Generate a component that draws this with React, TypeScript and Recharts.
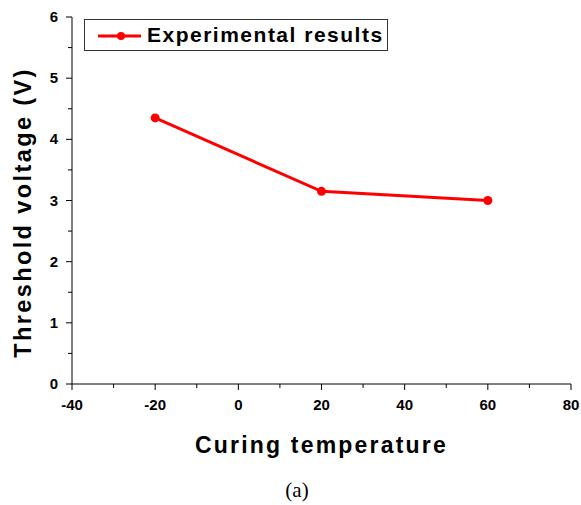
import React from 'react';
import { LineChart, Line, XAxis, YAxis } from 'recharts';

const temperatures = [-20, 20, 60];
const thresholdVoltage = [4.35, 3.15, 3.0];
const xTicks = [-40, -30, -20, -10, 0, 10, 20, 30, 40, 50, 60, 70, 80];
const yTicks = [0, 0.5, 1, 1.5, 2, 2.5, 3, 3.5, 4, 4.5, 5, 5.5, 6];
const seriesName = 'Experimental results';

const data = temperatures.map((t, i) => ({ temp: t, vth: thresholdVoltage[i] }));

const FONT = '"Liberation Sans", Arial, sans-serif';
const RED = '#ff0000';

const XTick = (props: any) => {
  const { x, y, payload } = props;
  const major = payload.value % 20 === 0;
  return (
    <g>
      <line x1={x} y1={y} x2={x} y2={y + (major ? 6 : 4)} stroke="#000" strokeWidth={1} />
      {major && (
        <text x={x} y={y + 26} textAnchor="middle" fontFamily={FONT} fontWeight="bold" fontSize={15} fill="#000">
          {payload.value}
        </text>
      )}
    </g>
  );
};

const YTick = (props: any) => {
  const { x, y, payload } = props;
  const major = Number.isInteger(payload.value);
  return (
    <g>
      <line x1={x} y1={y} x2={x - (major ? 6 : 4)} y2={y} stroke="#000" strokeWidth={1} />
      {major && (
        <text x={x - 14} y={y + 5} textAnchor="end" fontFamily={FONT} fontWeight="bold" fontSize={15} fill="#000">
          {payload.value}
        </text>
      )}
    </g>
  );
};

export default function App() {
  return (
    <div style={{ position: 'absolute', left: 0, top: 0, width: 581, height: 505, background: '#fff' }}>
      <LineChart width={581} height={505} data={data} margin={{ top: 17, right: 10, left: 0, bottom: 0 }}>
        <XAxis
          dataKey="temp"
          type="number"
          domain={[-40, 80]}
          ticks={xTicks}
          interval={0}
          height={121}
          tickSize={0}
          tickMargin={0}
          tick={<XTick />}
          axisLine={{ stroke: '#000', strokeWidth: 1 }}
          label={{
            content: (p: any) => {
              const vb = p.viewBox;
              return (
                <text
                  x={vb.x + vb.width / 2}
                  y={vb.y + 69}
                  textAnchor="middle"
                  fontFamily={FONT}
                  fontWeight="bold"
                  fontSize={23}
                  letterSpacing={2.2}
                  fill="#000"
                >
                  Curing temperature
                </text>
              );
            },
          }}
        />
        <YAxis
          type="number"
          domain={[0, 6]}
          ticks={yTicks}
          interval={0}
          width={72}
          tickSize={0}
          tickMargin={0}
          tick={<YTick />}
          axisLine={{ stroke: '#000', strokeWidth: 1 }}
          label={{
            content: (p: any) => {
              const vb = p.viewBox;
              const cx = vb.x + 31;
              const cy = vb.y + vb.height / 2 + 12;
              return (
                <text
                  x={cx}
                  y={cy}
                  transform={`rotate(-90 ${cx} ${cy})`}
                  textAnchor="middle"
                  fontFamily={FONT}
                  fontWeight="bold"
                  fontSize={23.5}
                  letterSpacing={2.4}
                  fill="#000"
                >
                  Threshold voltage (V)
                </text>
              );
            },
          }}
        />
        <Line
          dataKey="vth"
          name={seriesName}
          stroke={RED}
          strokeWidth={3}
          dot={{ r: 4.5, fill: RED, stroke: RED, strokeWidth: 0 }}
          isAnimationActive={false}
        />
      </LineChart>
      <div
        style={{
          position: 'absolute',
          left: 84,
          top: 19,
          width: 302,
          height: 30,
          border: '1.5px solid #333',
          display: 'flex',
          alignItems: 'center',
          background: '#fff',
        }}
      >
        <svg width={62} height={30} style={{ flexShrink: 0 }}>
          <line x1={13} y1={16} x2={56} y2={16} stroke={RED} strokeWidth={3} />
          <circle cx={36} cy={16} r={4} fill={RED} />
        </svg>
        <span style={{ fontFamily: FONT, fontWeight: 'bold', fontSize: 21, letterSpacing: 1.5, color: '#000', whiteSpace: 'nowrap' }}>
          {seriesName}
        </span>
      </div>
      <div
        style={{
          position: 'absolute',
          left: 0,
          width: 594,
          top: 478,
          textAlign: 'center',
          fontFamily: '"Liberation Serif", "Times New Roman", serif',
          fontSize: 21,
          color: '#000',
        }}
      >
        (a)
      </div>
    </div>
  );
}
